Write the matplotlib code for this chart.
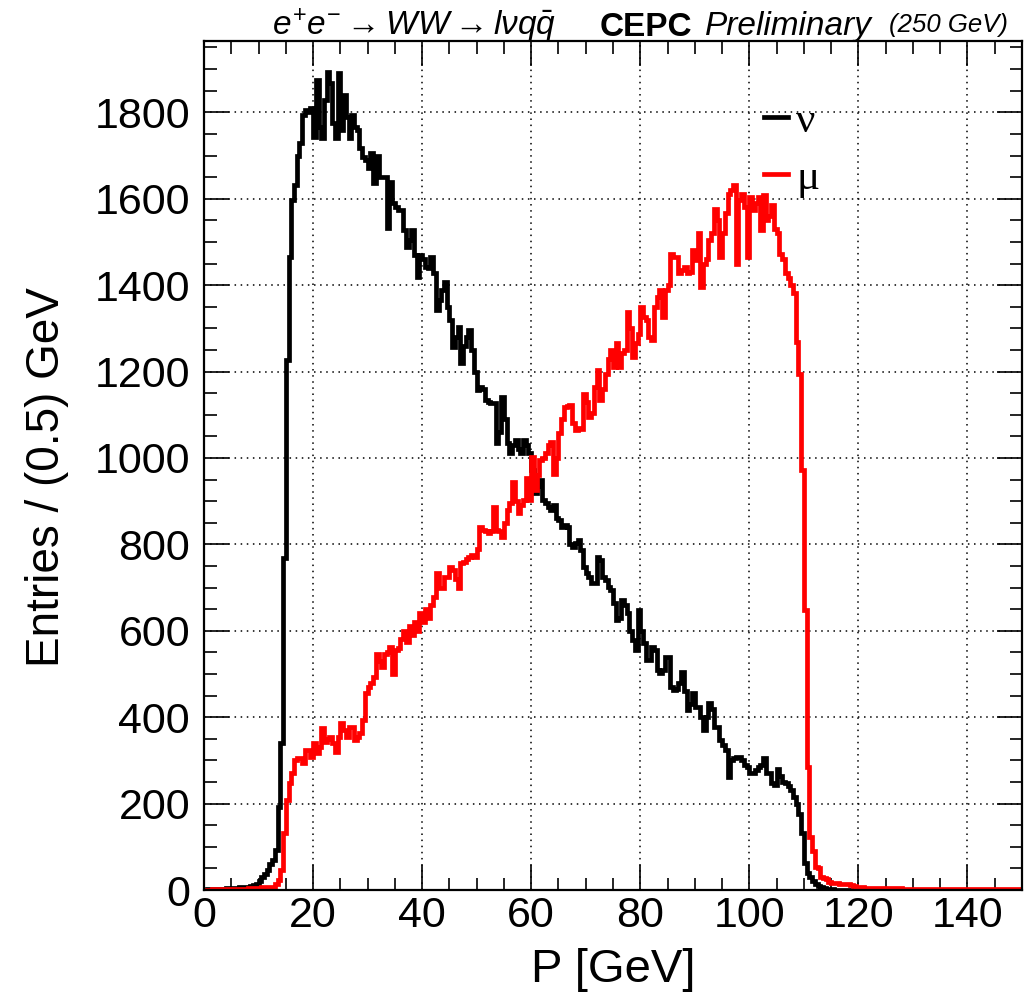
import matplotlib
matplotlib.use("Agg")
import matplotlib.pyplot as plt
import numpy as np
from matplotlib.ticker import MultipleLocator

plt.rcParams["font.family"] = ["Liberation Sans", "DejaVu Sans"]
plt.rcParams["mathtext.fontset"] = "custom"
plt.rcParams["mathtext.rm"] = "Liberation Sans"
plt.rcParams["mathtext.it"] = "Liberation Sans:italic"

# histogram binning (GeV)
P_MIN = 0.0
P_MAX = 150.0
BIN_WIDTH = 0.5

# entries per 0.5 GeV bin, one row = 5 GeV
nu_counts = [
    1, 2, 2, 2, 3, 3, 3, 3, 4, 4,
    4, 5, 5, 6, 6, 7, 8, 10, 12, 14,
    22, 30, 38, 46, 60, 69, 93, 193, 340, 768,
    1226, 1465, 1596, 1631, 1700, 1730, 1793, 1805, 1800, 1810,
    1742, 1874, 1765, 1740, 1828, 1893, 1867, 1775, 1740, 1890,
    1758, 1839, 1788, 1740, 1793, 1765, 1760, 1717, 1696, 1689,
    1670, 1705, 1636, 1700, 1650, 1650, 1650, 1532, 1638, 1590,
    1581, 1573, 1573, 1527, 1488, 1505, 1527, 1470, 1419, 1469,
    1460, 1442, 1440, 1465, 1427, 1342, 1365, 1388, 1407, 1350,
    1319, 1256, 1280, 1303, 1219, 1260, 1280, 1296, 1250, 1200,
    1157, 1164, 1160, 1134, 1130, 1127, 1127, 1034, 1060, 1141,
    1090, 1034, 1011, 1030, 1041, 1020, 1011, 1041, 1030, 1011,
    972, 918, 935, 949, 902, 895, 886, 880, 891, 860,
    856, 840, 845, 840, 800, 794, 803, 810, 787, 747,
    733, 724, 710, 710, 771, 763, 724, 717, 702, 694,
    664, 625, 630, 671, 660, 640, 600, 578, 555, 648,
    600, 571, 532, 532, 563, 555, 509, 502, 510, 539,
    539, 470, 463, 466, 480, 505, 460, 416, 430, 455,
    424, 424, 400, 370, 400, 432, 420, 378, 378, 347,
    335, 324, 262, 301, 305, 308, 308, 300, 290, 285,
    270, 270, 278, 285, 290, 306, 270, 270, 247, 243,
    280, 265, 250, 247, 240, 231, 216, 200, 177, 131,
    62, 40, 31, 22, 15, 10, 6, 4, 3, 2,
    2, 1, 1, 1, 1, 0, 0, 0, 0, 0,
    0, 0, 0, 0, 0, 0, 0, 0, 0, 0,
    0, 0, 0, 0, 0, 0, 0, 0, 0, 0,
    0, 0, 0, 0, 0, 0, 0, 0, 0, 0,
    0, 0, 0, 0, 0, 0, 0, 0, 0, 0,
    0, 0, 0, 0, 0, 0, 0, 0, 0, 0,
    0, 0, 0, 0, 0, 0, 0, 0, 0, 0,
]

mu_counts = [
    1, 1, 1, 2, 2, 2, 2, 2, 2, 2,
    2, 3, 3, 3, 3, 3, 4, 4, 4, 5,
    5, 6, 6, 7, 7, 7, 15, 23, 46, 131,
    208, 247, 270, 301, 305, 305, 293, 324, 324, 308,
    340, 316, 330, 375, 343, 350, 355, 340, 320, 355,
    386, 370, 355, 378, 378, 347, 355, 363, 393, 455,
    470, 478, 493, 547, 530, 516, 547, 550, 563, 501,
    555, 560, 580, 600, 575, 610, 590, 620, 600, 640,
    620, 650, 630, 660, 678, 733, 700, 700, 724, 724,
    747, 740, 720, 700, 756, 760, 765, 771, 775, 771,
    790, 840, 833, 830, 826, 830, 886, 833, 830, 817,
    850, 879, 895, 944, 900, 872, 890, 902, 953, 902,
    1002, 925, 960, 995, 1000, 1011, 1030, 1037, 964, 1000,
    1057, 1090, 1118, 1120, 1122, 1080, 1064, 1070, 1068, 1149,
    1130, 1095, 1103, 1164, 1203, 1134, 1160, 1195, 1230, 1250,
    1211, 1265, 1211, 1242, 1250, 1337, 1300, 1234, 1265, 1288,
    1349, 1327, 1319, 1280, 1273, 1349, 1372, 1388, 1327, 1388,
    1400, 1473, 1465, 1465, 1427, 1435, 1442, 1427, 1430, 1481,
    1458, 1520, 1396, 1450, 1460, 1504, 1520, 1577, 1550, 1465,
    1520, 1566, 1612, 1620, 1631, 1450, 1596, 1612, 1581, 1465,
    1604, 1573, 1590, 1604, 1527, 1608, 1550, 1560, 1585, 1531,
    1520, 1473, 1460, 1427, 1416, 1400, 1381, 1268, 1195, 972,
    648, 285, 123, 90, 54, 50, 30, 28, 25, 18,
    16, 16, 16, 15, 15, 15, 14, 12, 10, 8,
    6, 6, 5, 5, 5, 5, 5, 5, 4, 4,
    4, 4, 4, 4, 4, 4, 3, 3, 3, 3,
    3, 3, 3, 3, 3, 3, 3, 3, 3, 3,
    3, 3, 3, 3, 3, 3, 3, 3, 3, 3,
    3, 3, 3, 3, 3, 3, 3, 3, 3, 3,
    3, 3, 3, 3, 3, 3, 3, 3, 3, 3,
]

series_labels = ["\u03bd", "\u03bc"]
series_colors = ["black", "#ff0000"]

x_ticks = [0, 20, 40, 60, 80, 100, 120, 140]
y_ticks = [0, 200, 400, 600, 800, 1000, 1200, 1400, 1600, 1800]
Y_MAX = 1965


def main():
    fig = plt.figure(figsize=(10.34, 9.98), dpi=100)
    ax = fig.add_axes([0.1973, 0.1082, 0.7911, 0.8507])

    edges = np.arange(P_MIN, P_MAX + BIN_WIDTH / 2, BIN_WIDTH)
    for counts, label, color in zip([nu_counts, mu_counts], series_labels, series_colors):
        ax.stairs(counts, edges, baseline=None, color=color,
                  linewidth=3.4, label=label)

    ax.set_xlim(P_MIN, P_MAX)
    ax.set_ylim(0, Y_MAX)
    ax.set_xticks(x_ticks)
    ax.set_yticks(y_ticks)
    ax.xaxis.set_minor_locator(MultipleLocator(5))
    ax.yaxis.set_minor_locator(MultipleLocator(50))
    ax.tick_params(which="both", direction="in", top=True, right=True,
                   width=1.2, labelsize=31)
    ax.tick_params(which="major", length=18)
    ax.tick_params(which="minor", length=9)
    ax.tick_params(axis="x", pad=4)
    ax.tick_params(axis="y", pad=10)
    for spine in ax.spines.values():
        spine.set_linewidth(1.6)

    ax.grid(True, which="major", color="black", linestyle=(0, (1, 3)),
            linewidth=1.1)
    ax.set_axisbelow(True)

    fig.text(47 / 1034, 1 - 477 / 998, "Entries / (0.5) GeV", rotation=90,
             ha="center", va="center", fontsize=33)
    fig.text(613 / 1034, 1 - 970 / 998, "P [GeV]", ha="center",
             va="center", fontsize=34)

    # header line
    fig.text(556 / 1034, 1 - 26 / 998,
             r"$e^{+}e^{-}\rightarrow WW\rightarrow l\nu q\bar{q}$",
             ha="right", va="center", fontsize=24)
    fig.text(600 / 1034, 1 - 27 / 998, "CEPC", ha="left", va="center",
             fontsize=24, fontweight="bold")
    fig.text(705 / 1034, 1 - 27 / 998, "Preliminary", ha="left",
             va="center", fontsize=24, style="italic")
    fig.text(889 / 1034, 1 - 25 / 998, "(250 GeV)", ha="left",
             va="center", fontsize=18.5, style="italic")

    ax.legend(handles=[plt.Line2D([], [], color=c, linewidth=3.4)
                       for c in series_colors],
              labels=series_labels, loc="upper left",
              bbox_to_anchor=(764 / 1034, 1 - 102 / 998),
              bbox_transform=fig.transFigure, frameon=False,
              handlelength=0.55, handletextpad=0.2, labelspacing=0.42,
              borderpad=0, borderaxespad=0,
              prop={"family": "Liberation Serif", "size": 31})

    fig.savefig("out.png", dpi=100)
    plt.close(fig)


if __name__ == "__main__":
    main()
